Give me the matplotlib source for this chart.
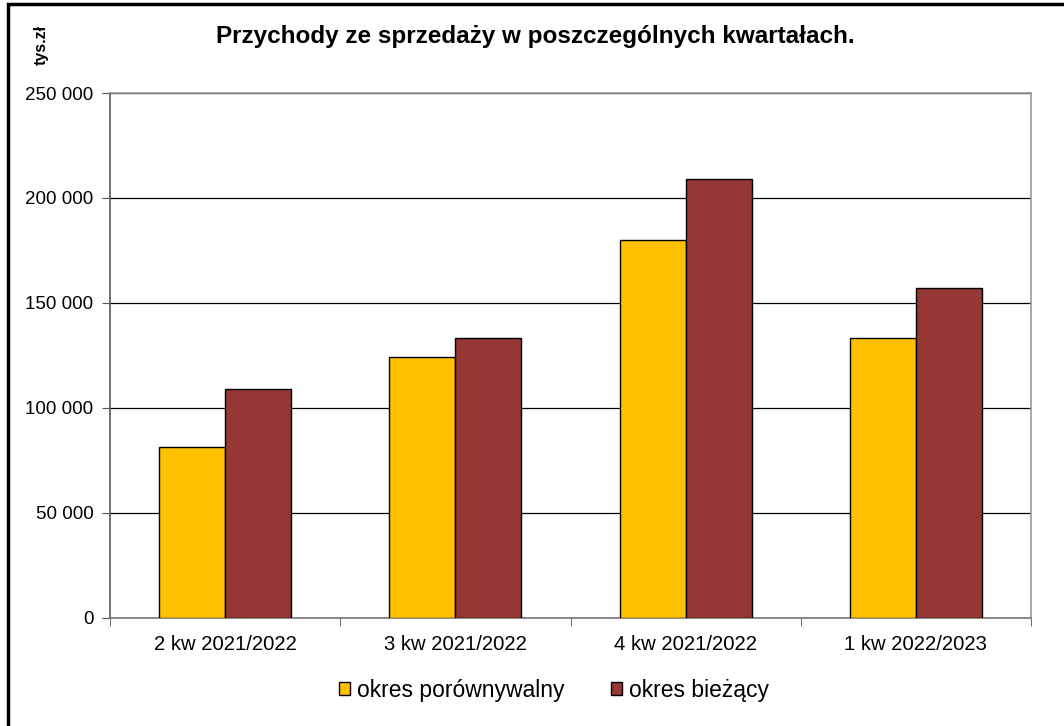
import numpy as np
import matplotlib.pyplot as plt
from matplotlib.patches import Rectangle
from matplotlib.ticker import FuncFormatter

plt.rcParams['font.family'] = ['Liberation Sans', 'DejaVu Sans']

kwartaly = ['2 kw 2021/2022', '3 kw 2021/2022', '4 kw 2021/2022', '1 kw 2022/2023']
okres_porownywalny = [81400, 124300, 180000, 133400]
okres_biezacy = [109000, 133400, 209000, 157100]

fig = plt.figure(figsize=(10.64, 7.26), dpi=100)
ax = fig.add_axes([0.1034, 0.1488, 0.8656, 0.7231])

x = np.arange(len(kwartaly))
w = 0.287
ax.bar(x - w / 2, okres_porownywalny, w, color='#FFC000', edgecolor='black', linewidth=1,
       label='okres porównywalny', zorder=3)
ax.bar(x + w / 2, okres_biezacy, w, color='#953735', edgecolor='black', linewidth=1,
       label='okres bieżący', zorder=3)

ax.set_xlim(-0.5, len(kwartaly) - 0.5)
ax.set_ylim(0, 250000)
ax.set_yticks(np.arange(0, 250001, 50000))
ax.yaxis.set_major_formatter(FuncFormatter(lambda v, p: f'{int(v):,}'.replace(',', ' ')))
ax.grid(axis='y', color='black', linewidth=0.9, zorder=0)

ax.set_xticks(x)
ax.set_xticklabels(kwartaly, fontsize=14.6)
ax.tick_params(axis='x', length=0, pad=12)
ax.set_xticks(np.arange(-0.5, len(kwartaly)), minor=True)
ax.tick_params(axis='x', which='minor', length=6, color='#555555', direction='out')
ax.tick_params(axis='y', length=6, color='#555555', labelsize=13.5, pad=6)

for s in ['top', 'right']:
    ax.spines[s].set_color('#999999')
ax.spines['left'].set_color('#555555')
ax.spines['bottom'].set_color('#777777')
for s in ax.spines.values():
    s.set_linewidth(1.2)

fig.text(535 / 1064, 1 - 37 / 726, 'Przychody ze sprzedaży w poszczególnych kwartałach.',
         ha='center', va='center', fontsize=17.5, fontweight='bold')
fig.text(41 / 1064, 1 - 45 / 726, 'tys.zł', rotation=90, ha='center', va='center',
         fontsize=11.5, fontweight='bold')

leg = fig.legend(loc='center', bbox_to_anchor=(554 / 1064, 1 - 690 / 726), ncol=2,
                 frameon=False, fontsize=16.5, handlelength=0.5, handleheight=0.5,
                 handletextpad=0.3, columnspacing=2.0)

fig.patches.append(Rectangle((8 / 1064, -0.1), 1.2, 1 - 4 / 726 + 0.1, transform=fig.transFigure,
                             fill=False, edgecolor='black', linewidth=2.5))

fig.savefig('out.png', dpi=100)
